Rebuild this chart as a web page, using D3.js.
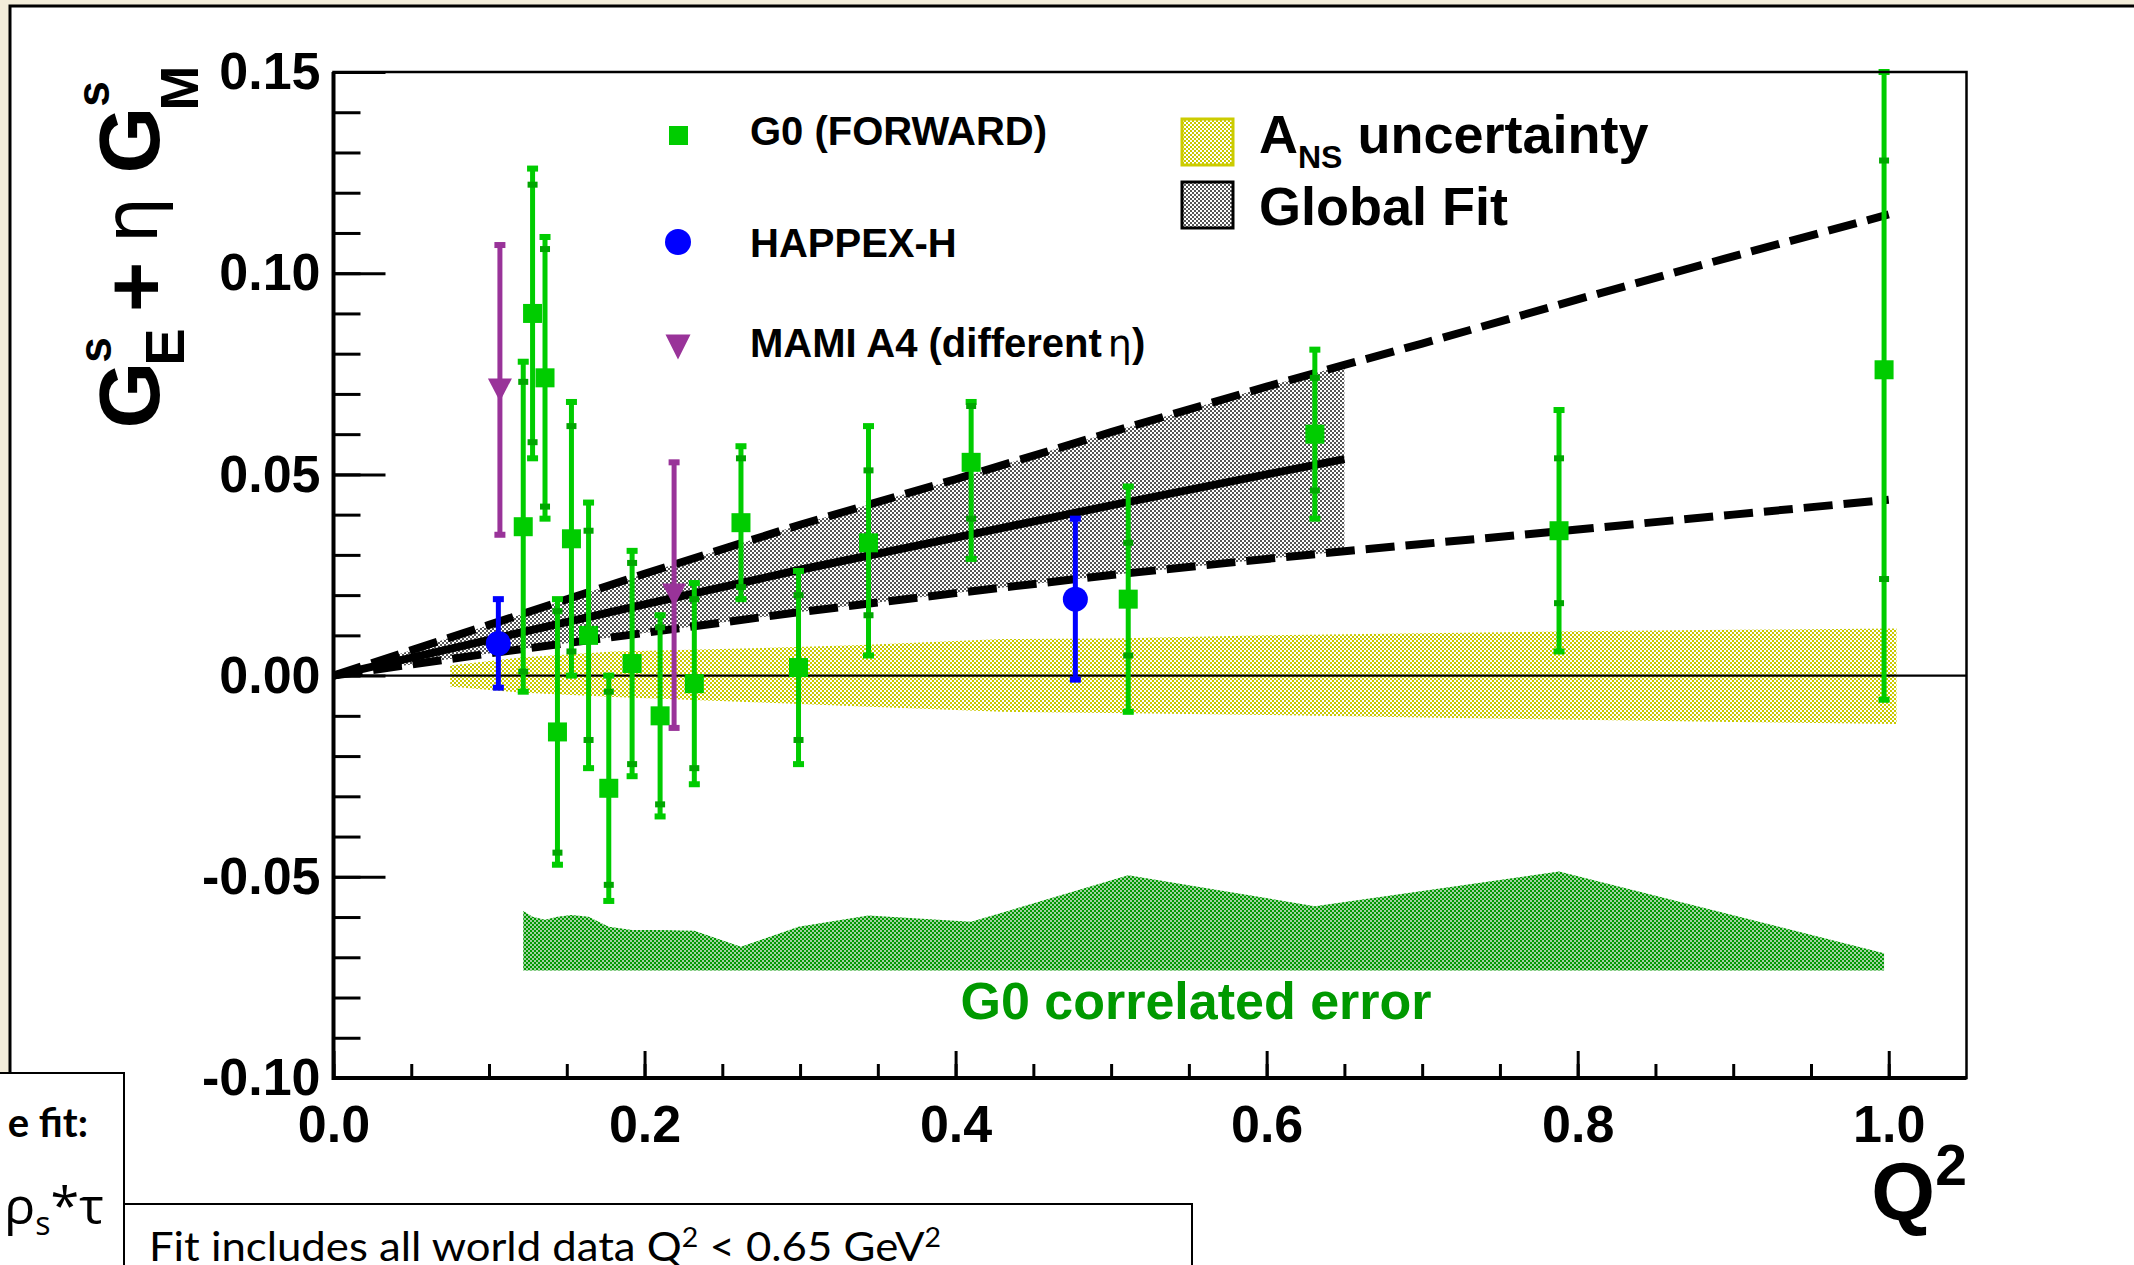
<!DOCTYPE html>
<html>
<head>
<meta charset="utf-8">
<script src="https://cdn.jsdelivr.net/npm/d3@7"></script>
<style>
  body { margin: 0; background: #f3edda; overflow: hidden; }
</style>
</head>
<body>
<div id="chart"></div>
<script>
// ---- data ----
// G0 forward angle points
const g0Q2    = [0.122, 0.128, 0.136, 0.144, 0.153, 0.164, 0.177, 0.192, 0.210, 0.232, 0.262, 0.299, 0.344, 0.410, 0.511, 0.631, 0.788, 0.997];
const g0Val   = [0.037, 0.090, 0.074, -0.014, 0.034, 0.010, -0.028, 0.003, -0.010, -0.002, 0.038, 0.002, 0.033, 0.053, 0.019, 0.060, 0.036, 0.076];
const g0Stat  = [0.036, 0.032, 0.032, 0.030, 0.028, 0.026, 0.024, 0.025, 0.022, 0.021, 0.016, 0.018, 0.018, 0.014, 0.014, 0.014, 0.018, 0.052];
const g0TotUp = [0.041, 0.036, 0.035, 0.033, 0.034, 0.033, 0.028, 0.028, 0.025, 0.025, 0.019, 0.024, 0.029, 0.015, 0.028, 0.021, 0.030, 0.082];
const g0TotDn = [0.041, 0.036, 0.035, 0.033, 0.034, 0.033, 0.028, 0.028, 0.025, 0.025, 0.019, 0.024, 0.028, 0.024, 0.028, 0.021, 0.030, 0.082];

// G0 correlated error (drawn as a band sitting on a fixed base)
const corrBase = -0.0733;
const corrErr  = [0.0148, 0.0134, 0.0126, 0.0134, 0.0138, 0.0134, 0.0109, 0.0101, 0.0101, 0.0099, 0.0059, 0.0109, 0.0137, 0.0121, 0.0237, 0.0160, 0.0246, 0.0043];

// HAPPEX-H
const happexQ2  = [0.106, 0.477];
const happexVal = [0.008, 0.019];
const happexErr = [0.011, 0.020];

// MAMI A4
const mamiQ2  = [0.107, 0.219];
const mamiVal = [0.071, 0.020];
const mamiErr = [0.036, 0.033];

// A_NS uncertainty band
const ansQ2    = [0.075, 0.12, 0.18, 0.27, 0.34, 0.43, 0.50, 0.60, 0.70, 0.80, 0.90, 1.005];
const ansUpper = [0.0025, 0.0045, 0.0060, 0.0068, 0.0076, 0.0091, 0.0092, 0.0100, 0.0105, 0.0110, 0.0114, 0.0117];
const ansLower = [-0.0027, -0.0042, -0.0053, -0.0066, -0.0077, -0.0090, -0.0093, -0.0098, -0.0104, -0.0110, -0.0115, -0.0120];

// global fit
const fitQ2      = [0, 0.1, 0.2, 0.3, 0.4, 0.5, 0.6, 0.65, 0.7, 0.8, 0.9, 1.0];
const fitUpper   = [0, 0.0126, 0.0253, 0.0375, 0.0488, 0.0605, 0.0718, 0.0772, 0.0825, 0.0935, 0.1042, 0.1146];
const fitLower   = [0, 0.0055, 0.0106, 0.0158, 0.0205, 0.0250, 0.0290, 0.0309, 0.0327, 0.0363, 0.0400, 0.0437];
const fitCentral = [0, 0.0089, 0.0177, 0.0263, 0.0343, 0.0423, 0.0500, 0.0538, null, null, null, null];
const fitBandMax = 0.65;

// axis ticks
const xMajor = [0, 0.2, 0.4, 0.6, 0.8, 1.0];
const yMajor = [-0.10, -0.05, 0, 0.05, 0.10, 0.15];

// ---- drawing ----
const W = 2134, H = 1265;
const F = "'Liberation Sans', Arial, Helvetica, sans-serif";
const GREEN = "#00cc00", GREEN_DK = "#00a600", BLUE = "#0000ff", PURPLE = "#993399";

const svg = d3.select("#chart").append("svg")
    .attr("width", W).attr("height", H)
    .style("display", "block");

// slide background + white panel
svg.append("rect").attr("width", W).attr("height", H).attr("fill", "#f3edda");
svg.append("rect")
    .attr("x", 10).attr("y", 6).attr("width", W + 20).attr("height", H + 20)
    .attr("fill", "#fff").attr("stroke", "#000").attr("stroke-width", 3);

// hatch-like checker patterns
const defs = svg.append("defs");
function checker(id, color, bg) {
    const p = defs.append("pattern").attr("id", id)
        .attr("width", 4).attr("height", 4).attr("patternUnits", "userSpaceOnUse");
    if (bg) p.append("rect").attr("width", 4).attr("height", 4).attr("fill", bg);
    p.append("rect").attr("width", 2).attr("height", 2).attr("fill", color);
    p.append("rect").attr("x", 2).attr("y", 2).attr("width", 2).attr("height", 2).attr("fill", color);
}
checker("patYellow", "#c8c800");
checker("patGray", "#555");
checker("patGreen", "#009900", "#a0d2a0");

let x = d3.scaleLinear().domain([0, 1.05]).range([333.5, 1966.5]);
let y = d3.scaleLinear().domain([-0.10, 0.15]).range([1078, 72]);
const yc = v => y(Math.max(-0.10, Math.min(0.15, v)));

const plot = svg.append("g");

// A_NS band
const ansData = ansQ2.map((q, i) => ({q: q, lo: ansLower[i], hi: ansUpper[i]}));
plot.append("path")
    .datum(ansData)
    .attr("fill", "url(#patYellow)")
    .attr("d", d3.area().x(d => x(d.q)).y0(d => y(d.lo)).y1(d => y(d.hi)));

// G0 correlated error band
const corrData = g0Q2.map((q, i) => ({q: q, e: corrErr[i]}));
plot.append("path")
    .datum(corrData)
    .attr("fill", "url(#patGreen)")
    .attr("d", d3.area().x(d => x(d.q)).y0(y(corrBase)).y1(d => y(corrBase + d.e)));

// global fit band (only up to Q2 = 0.65)
const fitData = fitQ2.map((q, i) => ({q: q, up: fitUpper[i], lo: fitLower[i], c: fitCentral[i]}));
plot.append("path")
    .datum(fitData.filter(d => d.q <= fitBandMax))
    .attr("fill", "url(#patGray)")
    .attr("d", d3.area().x(d => x(d.q)).y0(d => y(d.lo)).y1(d => y(d.up)));

// zero line
plot.append("line")
    .attr("x1", x(0)).attr("x2", x(1.05))
    .attr("y1", y(0)).attr("y2", y(0))
    .attr("stroke", "#000").attr("stroke-width", 2.2);

// fit lines
const dashed = key => d3.line().x(d => x(d.q)).y(d => y(d[key]));
["up", "lo"].forEach(k => {
    plot.append("path")
        .datum(fitData)
        .attr("fill", "none").attr("stroke", "#000")
        .attr("stroke-width", 8).attr("stroke-dasharray", "29,11")
        .attr("d", dashed(k));
});
plot.append("path")
    .datum(fitData.filter(d => d.c !== null))
    .attr("fill", "none").attr("stroke", "#000").attr("stroke-width", 8)
    .attr("d", dashed("c"));

// error bar helper
function bar(g, q, lo, hi, color) {
    g.append("line")
        .attr("x1", x(q)).attr("x2", x(q))
        .attr("y1", yc(lo)).attr("y2", yc(hi))
        .attr("stroke", color).attr("stroke-width", 5);
    [lo, hi].forEach(v => {
        g.append("rect")
            .attr("x", x(q) - 5.5).attr("y", yc(v) - 3)
            .attr("width", 11).attr("height", 6)
            .attr("fill", color);
    });
}

// G0 points
const g0 = plot.append("g");
g0Q2.forEach((q, i) => {
    const v = g0Val[i];
    bar(g0, q, v - g0TotDn[i], v + g0TotUp[i], GREEN);
    [v - g0Stat[i], v + g0Stat[i]].forEach(s => {
        g0.append("rect")
            .attr("x", x(q) - 5).attr("y", yc(s) - 3)
            .attr("width", 10).attr("height", 6)
            .attr("fill", GREEN_DK);
    });
    g0.append("rect")
        .attr("x", x(q) - 9.5).attr("y", y(v) - 9.5)
        .attr("width", 19).attr("height", 19)
        .attr("fill", GREEN);
});

// HAPPEX points
const hp = plot.append("g");
happexQ2.forEach((q, i) => {
    bar(hp, q, happexVal[i] - happexErr[i], happexVal[i] + happexErr[i], BLUE);
    hp.append("circle").attr("cx", x(q)).attr("cy", y(happexVal[i])).attr("r", 12.5).attr("fill", BLUE);
});

// MAMI points
const triDown = (cx, cy, w, h) => `M${cx - w / 2},${cy - h / 2}L${cx + w / 2},${cy - h / 2}L${cx},${cy + h / 2}Z`;
const mm = plot.append("g");
mamiQ2.forEach((q, i) => {
    bar(mm, q, mamiVal[i] - mamiErr[i], mamiVal[i] + mamiErr[i], PURPLE);
    mm.append("path").attr("d", triDown(x(q), y(mamiVal[i]), 24, 23)).attr("fill", PURPLE);
});

// ---- axes ----
function styleAxis(g, size) {
    g.select(".domain").remove();
    g.selectAll("line").attr("stroke", "#000").attr("stroke-width", 3);
    g.selectAll("text").attr("font-family", F).attr("font-weight", "bold")
        .attr("font-size", size).attr("fill", "#000");
}
svg.append("g").attr("transform", `translate(${x(0)},0)`)
    .call(d3.axisLeft(y).tickValues(d3.range(-10, 16).map(i => i / 100)).tickSize(-27).tickFormat(""))
    .call(g => styleAxis(g, 0));
svg.append("g").attr("transform", `translate(${x(0)},0)`)
    .call(d3.axisLeft(y).tickValues(yMajor).tickSize(-52).tickPadding(13).tickFormat(d => d.toFixed(2)))
    .call(g => styleAxis(g, 52));
svg.append("g").attr("transform", `translate(0,${y(-0.10)})`)
    .call(d3.axisBottom(x).tickValues(d3.range(0, 21).map(i => i * 0.05)).tickSize(-14).tickFormat(""))
    .call(g => styleAxis(g, 0));
svg.append("g").attr("transform", `translate(0,${y(-0.10)})`)
    .call(d3.axisBottom(x).tickValues(xMajor).tickSize(-27).tickPadding(27).tickFormat(d => d.toFixed(1)))
    .call(g => styleAxis(g, 52));

// frame
svg.append("rect")
    .attr("x", x(0)).attr("y", y(0.15))
    .attr("width", x(1.05) - x(0)).attr("height", y(-0.10) - y(0.15))
    .attr("fill", "none").attr("stroke", "#000").attr("stroke-width", 2.5);
svg.append("path")
    .attr("d", `M${x(0)},${y(0.15)}V${y(-0.10)}H${x(1.05)}`)
    .attr("fill", "none").attr("stroke", "#000").attr("stroke-width", 4);

// ---- axis titles ----
function vtext(bx, cy, str, size, weight, family) {
    svg.append("text")
        .attr("transform", `translate(${bx},${cy}) rotate(-90)`)
        .attr("text-anchor", "middle")
        .attr("font-family", family || F).attr("font-weight", weight)
        .attr("font-size", size).text(str);
}
vtext(159, 395, "G", 86, "bold");
vtext(111, 350, "s", 46, "bold");
vtext(184, 347, "E", 56, "bold");
vtext(165, 287, "+", 86, "bold");
vtext(157, 220, "\u03b7", 74, "normal", "'DejaVu Sans', sans-serif");
vtext(159, 140, "G", 86, "bold");
vtext(109, 94, "s", 46, "bold");
vtext(198, 88, "M", 54, "bold");

svg.append("text").attr("x", 1935).attr("y", 1220).attr("text-anchor", "end")
    .attr("font-family", F).attr("font-weight", "bold").attr("font-size", 82).text("Q");
svg.append("text").attr("x", 1967).attr("y", 1185).attr("text-anchor", "end")
    .attr("font-family", F).attr("font-weight", "bold").attr("font-size", 57).text("2");

// ---- legends ----
const leg = svg.append("g").attr("font-family", F).attr("font-weight", "bold");
leg.append("rect").attr("x", 669).attr("y", 126).attr("width", 19).attr("height", 19).attr("fill", GREEN);
leg.append("circle").attr("cx", 678).attr("cy", 242).attr("r", 13).attr("fill", BLUE);
leg.append("path").attr("d", triDown(678, 347, 25, 25)).attr("fill", PURPLE);
leg.append("text").attr("x", 750).attr("y", 145).attr("font-size", 40).text("G0 (FORWARD)");
leg.append("text").attr("x", 750).attr("y", 257).attr("font-size", 40).text("HAPPEX-H");
const mt = leg.append("text").attr("x", 750).attr("y", 357).attr("font-size", 40).text("MAMI A4 (different");
mt.append("tspan").attr("dx", 6).attr("font-weight", "normal")
    .attr("font-family", "'DejaVu Sans', sans-serif").attr("font-size", 38).text("\u03b7");
mt.append("tspan").text(")");

leg.append("rect").attr("x", 1182).attr("y", 119).attr("width", 51).attr("height", 46)
    .attr("fill", "url(#patYellow)").attr("stroke", "#cccc00").attr("stroke-width", 3);
leg.append("rect").attr("x", 1182).attr("y", 182).attr("width", 51).attr("height", 46)
    .attr("fill", "url(#patGray)").attr("stroke", "#000").attr("stroke-width", 3);
const at = leg.append("text").attr("x", 1259).attr("y", 153).attr("font-size", 54).text("A");
at.append("tspan").attr("dy", 15).attr("font-size", 32).text("NS");
at.append("tspan").attr("dy", -15).text(" uncertainty");
leg.append("text").attr("x", 1259).attr("y", 225).attr("font-size", 54).text("Global Fit");

svg.append("text").attr("x", 1196).attr("y", 1019).attr("text-anchor", "middle")
    .attr("font-family", F).attr("font-weight", "bold").attr("font-size", 52)
    .attr("fill", "#009900").text("G0 correlated error");

// ---- slide boxes at the bottom ----
const SL = "Lato, 'Open Sans', 'DejaVu Sans', sans-serif";
svg.append("rect").attr("x", -5).attr("y", 1073).attr("width", 129).attr("height", 220)
    .attr("fill", "#fff").attr("stroke", "#000").attr("stroke-width", 2);
svg.append("text").attr("x", 88).attr("y", 1137).attr("text-anchor", "end")
    .attr("font-family", SL).attr("font-weight", "bold").attr("font-size", 40).text("e fit:");
const rt = svg.append("text").attr("x", 4).attr("y", 1224)
    .attr("font-family", "'Open Sans', 'DejaVu Sans', sans-serif").attr("font-size", 52).text("\u03c1");
rt.append("tspan").attr("dy", 11).attr("font-size", 32).text("s");
rt.append("tspan").attr("dy", -11).text("*\u03c4");

svg.append("rect").attr("x", 124).attr("y", 1204).attr("width", 1068).attr("height", 100)
    .attr("fill", "#fff").attr("stroke", "#000").attr("stroke-width", 2);
const ft = svg.append("text").attr("x", 149).attr("y", 1261)
    .attr("font-family", SL).attr("font-size", 40)
    .attr("textLength", 792).attr("lengthAdjust", "spacingAndGlyphs")
    .text("Fit includes all world data Q");
ft.append("tspan").attr("dy", -14).attr("font-size", 26).text("2");
ft.append("tspan").attr("dy", 14).text(" < 0.65 GeV");
ft.append("tspan").attr("dy", -14).attr("font-size", 26).text("2");
</script>
</body>
</html>
